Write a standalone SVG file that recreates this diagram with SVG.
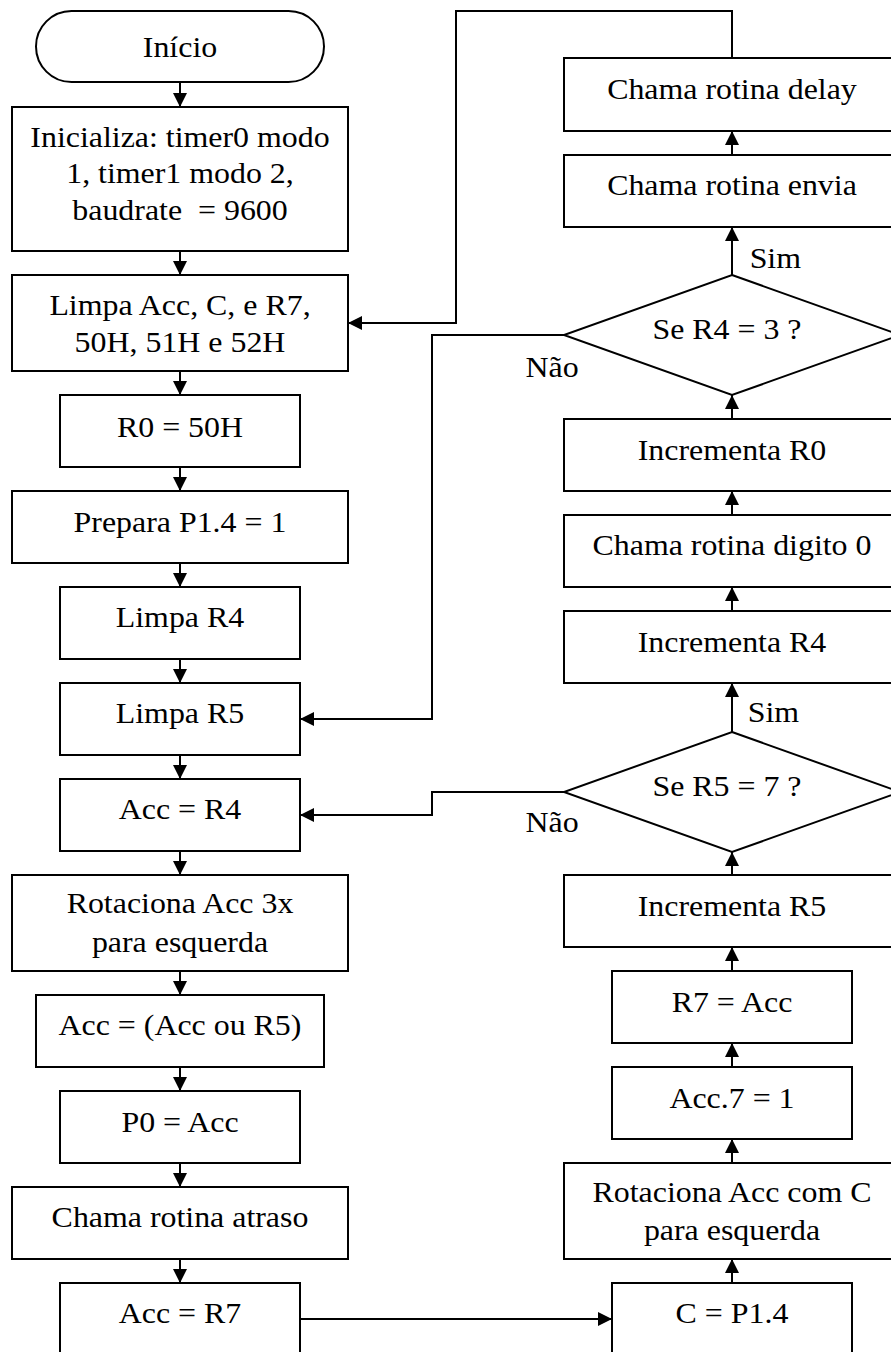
<svg xmlns="http://www.w3.org/2000/svg" width="891" height="1352" viewBox="0 0 891 1352">
  <style>
    .shape { fill: #ffffff; stroke: #000000; stroke-width: 2; }
    text { font-family: "Liberation Serif", "DejaVu Serif", "Times New Roman", serif; font-size: 29px; fill: #000000;
           transform-box: fill-box; transform-origin: center; transform: scaleX(1.1); }
    .lbl { text-anchor: middle; }
    .wire { fill: none; stroke: #000000; stroke-width: 2; }
  </style>
  <defs>
    <marker id="arrow" markerUnits="userSpaceOnUse" markerWidth="16" markerHeight="16" refX="14" refY="7" orient="auto">
      <path d="M0,0 L14,7 L0,14 Z" fill="#000000"/>
    </marker>
  </defs>
  <rect width="891" height="1352" fill="#ffffff"/>

  <!-- connectors -->
  <g id="connectors">
    <!-- left column, top to bottom -->
    <path class="wire" d="M180,82 V107" marker-end="url(#arrow)"/>
    <path class="wire" d="M180,251 V275" marker-end="url(#arrow)"/>
    <path class="wire" d="M180,371 V395" marker-end="url(#arrow)"/>
    <path class="wire" d="M180,467 V491" marker-end="url(#arrow)"/>
    <path class="wire" d="M180,563 V587" marker-end="url(#arrow)"/>
    <path class="wire" d="M180,659 V683" marker-end="url(#arrow)"/>
    <path class="wire" d="M180,755 V779" marker-end="url(#arrow)"/>
    <path class="wire" d="M180,851 V875" marker-end="url(#arrow)"/>
    <path class="wire" d="M180,971 V995" marker-end="url(#arrow)"/>
    <path class="wire" d="M180,1067 V1091" marker-end="url(#arrow)"/>
    <path class="wire" d="M180,1163 V1187" marker-end="url(#arrow)"/>
    <path class="wire" d="M180,1259 V1283" marker-end="url(#arrow)"/>
    <!-- bridge to right column -->
    <path class="wire" d="M300,1319 H612" marker-end="url(#arrow)"/>
    <!-- right column, bottom to top -->
    <path class="wire" d="M732,1283 V1259" marker-end="url(#arrow)"/>
    <path class="wire" d="M732,1163 V1139" marker-end="url(#arrow)"/>
    <path class="wire" d="M732,1067 V1043" marker-end="url(#arrow)"/>
    <path class="wire" d="M732,971 V947" marker-end="url(#arrow)"/>
    <path class="wire" d="M732,875 V852" marker-end="url(#arrow)"/>
    <path class="wire" d="M732,732 V683" marker-end="url(#arrow)"/>
    <path class="wire" d="M732,611 V587" marker-end="url(#arrow)"/>
    <path class="wire" d="M732,515 V491" marker-end="url(#arrow)"/>
    <path class="wire" d="M732,419 V395" marker-end="url(#arrow)"/>
    <path class="wire" d="M732,275 V227" marker-end="url(#arrow)"/>
    <path class="wire" d="M732,155 V131" marker-end="url(#arrow)"/>
    <!-- loop back from delay -->
    <path class="wire" d="M732,58 V11 H456 V323 H348" marker-end="url(#arrow)"/>
    <!-- "Não" branches -->
    <path class="wire" d="M564,335 H432 V719 H300" marker-end="url(#arrow)"/>
    <path class="wire" d="M564,792 H432 V815 H300" marker-end="url(#arrow)"/>
    <text x="752" y="268">Sim</text>
    <text x="750" y="722">Sim</text>
    <text x="528" y="377">Não</text>
    <text x="528" y="832">Não</text>
  </g>

  <!-- left column nodes -->
  <g id="inicio">
    <rect class="shape" x="36" y="11" width="288" height="71" rx="35.5" ry="35.5"/>
    <text class="lbl" x="180" y="57">Início</text>
  </g>
  <g id="inicializa">
    <rect class="shape" x="12" y="107" width="336" height="144"/>
    <text class="lbl" x="180" y="147">Inicializa: timer0 modo</text>
    <text class="lbl" x="180" y="183">1, timer1 modo 2,</text>
    <text class="lbl" x="180" y="220" xml:space="preserve">baudrate  = 9600</text>
  </g>
  <g id="limpa-acc">
    <rect class="shape" x="12" y="275" width="336" height="96"/>
    <text class="lbl" x="180" y="315">Limpa Acc, C, e R7,</text>
    <text class="lbl" x="180" y="352">50H, 51H e 52H</text>
  </g>
  <g id="r0">
    <rect class="shape" x="60" y="395" width="240" height="72"/>
    <text class="lbl" x="180" y="437">R0 = 50H</text>
  </g>
  <g id="prepara">
    <rect class="shape" x="12" y="491" width="336" height="72"/>
    <text class="lbl" x="180" y="532">Prepara P1.4 = 1</text>
  </g>
  <g id="limpa-r4">
    <rect class="shape" x="60" y="587" width="240" height="72"/>
    <text class="lbl" x="180" y="627">Limpa R4</text>
  </g>
  <g id="limpa-r5">
    <rect class="shape" x="60" y="683" width="240" height="72"/>
    <text class="lbl" x="180" y="723">Limpa R5</text>
  </g>
  <g id="acc-r4">
    <rect class="shape" x="60" y="779" width="240" height="72"/>
    <text class="lbl" x="180" y="819">Acc = R4</text>
  </g>
  <g id="rotaciona-3x">
    <rect class="shape" x="12" y="875" width="336" height="96"/>
    <text class="lbl" x="180" y="913">Rotaciona Acc 3x</text>
    <text class="lbl" x="180" y="952">para esquerda</text>
  </g>
  <g id="acc-ou">
    <rect class="shape" x="36" y="995" width="288" height="72"/>
    <text class="lbl" x="180" y="1035">Acc = (Acc ou R5)</text>
  </g>
  <g id="p0">
    <rect class="shape" x="60" y="1091" width="240" height="72"/>
    <text class="lbl" x="180" y="1132">P0 = Acc</text>
  </g>
  <g id="atraso">
    <rect class="shape" x="12" y="1187" width="336" height="72"/>
    <text class="lbl" x="180" y="1227">Chama rotina atraso</text>
  </g>
  <g id="acc-r7">
    <rect class="shape" x="60" y="1283" width="240" height="74"/>
    <text class="lbl" x="180" y="1323">Acc = R7</text>
  </g>

  <!-- right column nodes -->
  <g id="delay">
    <rect class="shape" x="564" y="58" width="336" height="73"/>
    <text class="lbl" x="732" y="99">Chama rotina delay</text>
  </g>
  <g id="envia">
    <rect class="shape" x="564" y="155" width="336" height="72"/>
    <text class="lbl" x="732" y="195">Chama rotina envia</text>
  </g>
  <g id="se-r4">
    <polygon class="shape" points="732,275 900,335 732,395 564,335"/>
    <text class="lbl" x="727" y="339">Se R4 = 3 ?</text>
  </g>
  <g id="inc-r0">
    <rect class="shape" x="564" y="419" width="336" height="72"/>
    <text class="lbl" x="732" y="460">Incrementa R0</text>
  </g>
  <g id="digito">
    <rect class="shape" x="564" y="515" width="336" height="72"/>
    <text class="lbl" x="732" y="555">Chama rotina digito 0</text>
  </g>
  <g id="inc-r4">
    <rect class="shape" x="564" y="611" width="336" height="72"/>
    <text class="lbl" x="732" y="652">Incrementa R4</text>
  </g>
  <g id="se-r5">
    <polygon class="shape" points="732,732 900,792 732,852 564,792"/>
    <text class="lbl" x="727" y="796">Se R5 = 7 ?</text>
  </g>
  <g id="inc-r5">
    <rect class="shape" x="564" y="875" width="336" height="72"/>
    <text class="lbl" x="732" y="916">Incrementa R5</text>
  </g>
  <g id="r7-acc">
    <rect class="shape" x="612" y="971" width="240" height="72"/>
    <text class="lbl" x="732" y="1012">R7 = Acc</text>
  </g>
  <g id="acc7">
    <rect class="shape" x="612" y="1067" width="240" height="72"/>
    <text class="lbl" x="732" y="1108">Acc.7 = 1</text>
  </g>
  <g id="rotaciona-c">
    <rect class="shape" x="564" y="1163" width="336" height="96"/>
    <text class="lbl" x="732" y="1202">Rotaciona Acc com C</text>
    <text class="lbl" x="732" y="1240">para esquerda</text>
  </g>
  <g id="c-p14">
    <rect class="shape" x="612" y="1283" width="240" height="74"/>
    <text class="lbl" x="732" y="1323">C = P1.4</text>
  </g>
</svg>
